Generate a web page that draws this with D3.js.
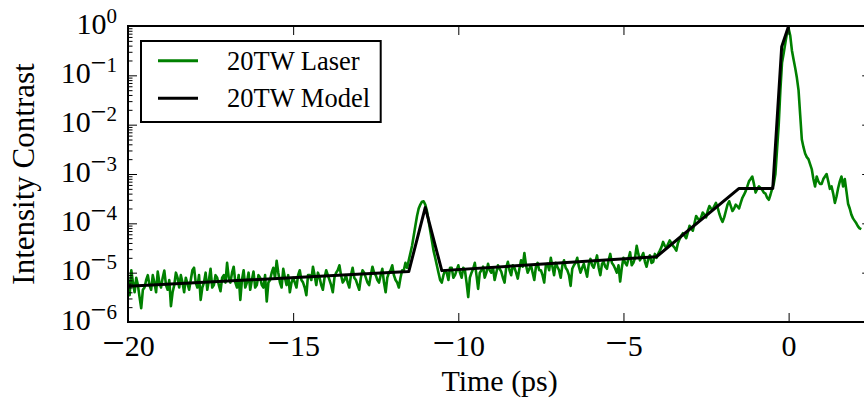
<!DOCTYPE html>
<html><head><meta charset="utf-8">
<script src="https://cdn.jsdelivr.net/npm/d3@7"></script>
<style>
body{margin:0;background:#fff;}
svg{display:block;}
text{font-family:"Liberation Serif","Times New Roman",serif;fill:#000;}
</style>
</head><body>
<svg id="chart" width="864" height="405"></svg>
<script>
// ---------------- data ----------------
const xDomain = [-20, 2.5];
const yDomain = [1e-6, 1];
const xTicks = [-20, -15, -10, -5, 0];
const xTickLabels = ["\u221220", "\u221215", "\u221210", "\u22125", "0"];
const yTicks = [1e-6, 1e-5, 1e-4, 1e-3, 1e-2, 1e-1, 1];
const yTickExponents = ["\u22126", "\u22125", "\u22124", "\u22123", "\u22122", "\u22121", "0"];
const seriesNames = ["20TW Laser", "20TW Model"];
const seriesColors = ["#008000", "#000000"];
const xLabel = "Time (ps)";
const yLabel = "Intensity Contrast";

const modelTime  = [-20, -11.5, -11.0, -10.5, -4.0, -1.5, -0.48, -0.21, 0.0];
const modelValue = [5.3e-6, 1.05e-5, 2.1e-4, 1.1e-5, 2.1e-5, 5.1e-4, 5.1e-4, 0.38, 1.0];

// measured trace: samples at laserTime, plus one sample midway between consecutive times
const laserTime = [
-20.0,-19.9,-19.8,-19.7,-19.6,-19.5,-19.4,-19.3,-19.2,-19.1,
-19.0,-18.9,-18.8,-18.7,-18.6,-18.5,-18.4,-18.3,-18.2,-18.1,
-18.0,-17.9,-17.8,-17.7,-17.6,-17.5,-17.4,-17.3,-17.2,-17.1,
-17.0,-16.9,-16.8,-16.7,-16.6,-16.5,-16.4,-16.3,-16.2,-16.1,
-16.0,-15.9,-15.8,-15.7,-15.6,-15.5,-15.4,-15.3,-15.2,-15.1,
-15.0,-14.9,-14.8,-14.7,-14.6,-14.5,-14.4,-14.3,-14.2,-14.1,
-14.0,-13.9,-13.8,-13.7,-13.6,-13.5,-13.4,-13.3,-13.2,-13.1,
-13.0,-12.9,-12.8,-12.7,-12.6,-12.5,-12.4,-12.3,-12.2,-12.1,
-12.0,-11.9,-11.8,-11.7,-11.6,-11.5,-11.4,-11.3,-11.2,-11.1,
-11.0,-10.9,-10.8,-10.7,-10.6,-10.5,-10.4,-10.3,-10.2,-10.1,
-10.0,-9.9,-9.8,-9.7,-9.6,-9.5,-9.4,-9.3,-9.2,-9.1,
-9.0,-8.9,-8.8,-8.7,-8.6,-8.5,-8.4,-8.3,-8.2,-8.1,
-8.0,-7.9,-7.8,-7.7,-7.6,-7.5,-7.4,-7.3,-7.2,-7.1,
-7.0,-6.9,-6.8,-6.7,-6.6,-6.5,-6.4,-6.3,-6.2,-6.1,
-6.0,-5.9,-5.8,-5.7,-5.6,-5.5,-5.4,-5.3,-5.2,-5.1,
-5.0,-4.9,-4.8,-4.7,-4.6,-4.5,-4.4,-4.3,-4.2,-4.1,
-4.0,-3.9,-3.8,-3.7,-3.6,-3.5,-3.4,-3.3,-3.2,-3.1,
-3.0,-2.9,-2.8,-2.7,-2.6,-2.5,-2.4,-2.3,-2.2,-2.1,
-2.0,-1.9,-1.8,-1.7,-1.6,-1.5,-1.4,-1.3,-1.2,-1.1,
-1.0,-0.9,-0.8,-0.7,-0.6,-0.5,-0.4,-0.3,-0.2,-0.1,
0.0,0.1,0.2,0.3,0.4,0.5,0.6,0.7,0.8,0.9,
1.0,1.1,1.2,1.3,1.4,1.5,1.6,1.7,1.8,1.9,
2.0,2.1,2.2
];
const laserValue = [
7.1e-6,1.12e-5,4.0e-6,5.6e-6,1.9e-6,5.0e-6,8.9e-6,4.5e-6,6.3e-6,1.05e-5,
5.0e-6,1.1e-5,4.5e-6,2.1e-6,5.6e-6,7.9e-6,8.9e-6,4.0e-6,6.0e-6,7.1e-6,
1.26e-5,5.0e-6,2.8e-6,6.3e-6,4.5e-6,1.2e-5,5.6e-6,7.9e-6,4.2e-6,8.9e-6,
1.58e-5,6.3e-6,1.32e-5,5.0e-6,2.8e-6,1.12e-5,6.3e-6,4.5e-6,1.05e-5,5.6e-6,
7.9e-6,5.0e-6,2.6e-6,7.1e-6,1.26e-5,1.74e-5,6.3e-6,1.2e-5,5.6e-6,4.0e-6,
7.9e-6,5.0e-6,1.12e-5,6.3e-6,3.5e-6,8.9e-6,1.32e-5,5.6e-6,7.9e-6,4.5e-6,
1.12e-5,7.1e-6,4.0e-6,1.0e-5,1.41e-5,6.3e-6,8.9e-6,5.0e-6,1.26e-5,7.1e-6,
4.5e-6,1.12e-5,7.9e-6,5.6e-6,1.32e-5,8.9e-6,6.3e-6,1.2e-5,4.0e-6,1.0e-5,
1.41e-5,7.1e-6,5.0e-6,1.12e-5,1.58e-5,1.78e-5,3.5e-5,8.9e-5,2.0e-4,2.75e-4,
2.4e-4,1.12e-4,4.5e-5,2.0e-5,1.0e-5,6.3e-6,1.12e-5,7.1e-6,1.26e-5,8.9e-6,
1.41e-5,7.9e-6,1.12e-5,3.2e-6,1.0e-5,1.58e-5,4.7e-6,1.12e-5,7.9e-6,1.51e-5,
1.0e-5,7.1e-6,1.41e-5,1.05e-5,6.3e-6,1.66e-5,8.9e-6,1.26e-5,7.6e-6,1.78e-5,
2.5e-5,1.0e-5,1.41e-5,7.1e-6,1.58e-5,1.12e-5,6.3e-6,1.51e-5,2.0e-5,8.9e-6,
1.32e-5,7.9e-6,1.78e-5,1.12e-5,5.4e-6,1.41e-5,2.0e-5,1.0e-5,1.51e-5,8.3e-6,
1.9e-5,1.26e-5,2.24e-5,8.9e-6,1.66e-5,1.2e-5,2.4e-5,1.41e-5,1.0e-5,6.6e-6,
2.0e-5,1.41e-5,2.6e-5,1.58e-5,3.5e-5,1.78e-5,2.5e-5,1.32e-5,2.24e-5,1.66e-5,
2.0e-5,2.8e-5,4.2e-5,3.2e-5,4.5e-5,3.5e-5,2.8e-5,4.8e-5,6.3e-5,5.0e-5,
8.9e-5,7.1e-5,1.41e-4,1.12e-4,1.66e-4,1.32e-4,2.24e-4,1.9e-4,2.6e-4,1.58e-4,
1.07e-4,1.78e-4,2.8e-4,1.78e-4,2.4e-4,2.0e-4,3.3e-4,4.5e-4,7.1e-4,8.9e-4,
4.2e-4,5.6e-4,4.8e-4,4.0e-4,3.0e-4,5.0e-4,1.0e-3,1.0e-2,0.18,0.45,
0.89,0.32,0.14,0.05,5.0e-3,2.6e-3,2.0e-3,1.26e-3,5.6e-4,7.1e-4,
6.3e-4,8.9e-4,7.1e-4,5.6e-4,2.6e-4,5.2e-4,8.9e-4,7.9e-4,2.5e-4,1.5e-4,
1.12e-4,8.7e-5,7.6e-5
];
const laserMidValue = [
3.5e-6,6.3e-6,7.9e-6,3.2e-6,4.5e-6,7.1e-6,5.6e-6,8.9e-6,4.0e-6,6.3e-6,
7.9e-6,5.6e-6,7.1e-6,4.0e-6,1.0e-5,5.0e-6,6.3e-6,7.9e-6,4.5e-6,1.12e-5,
6.3e-6,8.9e-6,5.0e-6,1.0e-5,7.1e-6,5.0e-6,8.9e-6,5.6e-6,7.9e-6,6.3e-6,
7.9e-6,1.0e-5,6.3e-6,8.9e-6,7.1e-6,5.0e-6,1.0e-5,7.1e-6,5.0e-6,8.9e-6,
5.6e-6,8.9e-6,6.3e-6,1.0e-5,7.9e-6,1.0e-5,5.0e-6,7.9e-6,8.9e-6,6.3e-6,
6.3e-6,8.9e-6,7.1e-6,5.0e-6,8.9e-6,7.1e-6,8.9e-6,1.0e-5,5.6e-6,7.9e-6,
8.9e-6,5.6e-6,7.9e-6,1.12e-5,8.9e-6,7.1e-6,6.3e-6,8.9e-6,7.9e-6,5.6e-6,
7.9e-6,1.0e-5,6.3e-6,8.9e-6,1.0e-5,7.1e-6,8.9e-6,6.3e-6,7.9e-6,1.12e-5,
8.9e-6,6.3e-6,7.9e-6,1.12e-5,1.26e-5,2.5e-5,5.6e-5,1.41e-4,2.4e-4,2.8e-4,
1.78e-4,7.1e-5,2.8e-5,1.41e-5,7.1e-6,8.9e-6,1.0e-5,1.26e-5,7.9e-6,1.12e-5,
1.0e-5,1.26e-5,6.3e-6,7.9e-6,1.2e-5,8.9e-6,1.0e-5,1.32e-5,1.0e-5,1.12e-5,
1.26e-5,1.0e-5,1.2e-5,7.9e-6,1.26e-5,1.12e-5,1.41e-5,1.0e-5,1.2e-5,1.32e-5,
1.41e-5,1.2e-5,1.0e-5,1.32e-5,1.12e-5,8.9e-6,1.41e-5,1.12e-5,1.32e-5,1.58e-5,
1.12e-5,1.41e-5,1.26e-5,8.9e-6,1.2e-5,1.58e-5,1.32e-5,1.26e-5,1.12e-5,1.51e-5,
1.41e-5,1.66e-5,1.26e-5,1.51e-5,1.32e-5,1.78e-5,1.58e-5,1.2e-5,1.41e-5,1.26e-5,
1.58e-5,1.9e-5,1.41e-5,2.0e-5,2.4e-5,2.1e-5,1.66e-5,1.9e-5,1.58e-5,2.4e-5,
2.4e-5,3.3e-5,3.5e-5,3.8e-5,4.0e-5,3.2e-5,4.0e-5,5.6e-5,5.6e-5,6.6e-5,
7.9e-5,1.0e-4,1.26e-4,1.32e-4,1.51e-4,1.78e-4,2.0e-4,2.24e-4,2.1e-4,1.26e-4,
1.32e-4,2.4e-4,2.24e-4,2.0e-4,2.2e-4,2.6e-4,3.8e-4,5.6e-4,7.9e-4,6.3e-4,
5.0e-4,5.2e-4,4.2e-4,3.3e-4,3.8e-4,6.3e-4,3.2e-3,5.0e-2,0.28,0.71,
0.63,0.21,0.089,1.58e-2,3.5e-3,2.2e-3,1.58e-3,7.9e-4,8.9e-4,6.3e-4,
7.9e-4,1.0e-3,5.0e-4,4.0e-4,3.5e-4,7.1e-4,5.6e-4,4.5e-4,2.0e-4,1.26e-4,
1.0e-4,7.9e-5
];

// ---------------- layout ----------------
const plot = {left: 128, right: 871.2, top: 26, bottom: 322};
const svg = d3.select("#chart");
const x = d3.scaleLinear().domain(xDomain).range([plot.left, plot.right]);
const y = d3.scaleLog().domain(yDomain).range([plot.bottom, plot.top]);
const fontFam = '"Liberation Serif","Times New Roman",serif';

svg.append("defs").append("clipPath").attr("id", "clip")
  .append("rect").attr("x", plot.left).attr("y", plot.top)
  .attr("width", plot.right - plot.left).attr("height", plot.bottom - plot.top);

const laser = [];
laserTime.forEach((t, i) => {
  laser.push({t, v: laserValue[i]});
  if (i < laserMidValue.length) laser.push({t: (t + laserTime[i + 1]) / 2, v: laserMidValue[i]});
});
const model = modelTime.map((t, i) => ({t, v: modelValue[i]}));
const line = d3.line().x(d => x(d.t)).y(d => y(d.v));

const gData = svg.append("g").attr("clip-path", "url(#clip)");
gData.append("path").datum(laser).attr("d", line)
  .attr("fill", "none").attr("stroke", seriesColors[0]).attr("stroke-width", 2.6)
  .attr("stroke-linejoin", "round");
gData.append("path").datum(model).attr("d", line)
  .attr("fill", "none").attr("stroke", seriesColors[1]).attr("stroke-width", 3)
  .attr("stroke-linejoin", "round");

// ---------------- axes ----------------
const minorY = y.ticks().filter(v => !yTicks.some(m => Math.abs(m - v) / m < 1e-9));

function styleAxis(g) {
  g.select(".domain").remove();
  g.selectAll(".tick line").attr("stroke", "#000").attr("stroke-width", 1);
  g.attr("font-family", fontFam);
}

// bottom
const gxb = svg.append("g").attr("transform", `translate(0,${plot.bottom})`)
  .call(d3.axisBottom(x).tickValues(xTicks).tickSize(-9).tickPadding(12.5));
styleAxis(gxb);
gxb.selectAll(".tick text").attr("font-size", 30).attr("fill", "#000").each(function(d) {
  const lab = xTickLabels[xTicks.indexOf(d)];
  const t = d3.select(this).text("");
  if (lab[0] === "\u2212") {
    t.append("tspan").attr("font-size", 40).text("\u2212");
    t.append("tspan").text(lab.slice(1));
  } else t.append("tspan").text(lab);
});
// top
const gxt = svg.append("g").attr("transform", `translate(0,${plot.top})`)
  .call(d3.axisTop(x).tickValues(xTicks).tickSize(-9).tickFormat(""));
styleAxis(gxt);

// left
const gyl = svg.append("g").attr("transform", `translate(${plot.left},0)`)
  .call(d3.axisLeft(y).tickValues(yTicks).tickSize(-9).tickPadding(11));
styleAxis(gyl);
gyl.selectAll(".tick text").attr("font-size", 30).attr("fill", "#000").attr("dy", 7).each(function(d) {
  const e = yTickExponents[yTicks.indexOf(d)];
  const t = d3.select(this).text("");
  t.append("tspan").text("10");
  const sup = t.append("tspan").attr("dy", -11).attr("font-size", 21);
  if (e[0] === "\u2212") {
    sup.append("tspan").attr("font-size", 28).text("\u2212");
    sup.append("tspan").text(e.slice(1));
  } else sup.append("tspan").text(e);
});
const gylm = svg.append("g").attr("transform", `translate(${plot.left},0)`)
  .call(d3.axisLeft(y).tickValues(minorY).tickSize(-4.5).tickFormat(""));
styleAxis(gylm);

// right
const gyr = svg.append("g").attr("transform", `translate(${plot.right},0)`)
  .call(d3.axisRight(y).tickValues(yTicks).tickSize(-9).tickFormat(""));
styleAxis(gyr);
const gyrm = svg.append("g").attr("transform", `translate(${plot.right},0)`)
  .call(d3.axisRight(y).tickValues(minorY).tickSize(-4.5).tickFormat(""));
styleAxis(gyrm);

// spines
svg.append("rect").attr("x", plot.left).attr("y", plot.top)
  .attr("width", plot.right - plot.left).attr("height", plot.bottom - plot.top)
  .attr("fill", "none").attr("stroke", "#000").attr("stroke-width", 2);

// axis labels
svg.append("text").attr("x", (plot.left + plot.right) / 2).attr("y", 391)
  .attr("text-anchor", "middle").attr("font-size", 30).text(xLabel);
svg.append("text").attr("transform", `translate(34,${(plot.top + plot.bottom) / 2}) rotate(-90)`)
  .attr("text-anchor", "middle").attr("font-size", 31).text(yLabel);

// ---------------- legend ----------------
const lg = svg.append("g");
lg.append("rect").attr("x", 141).attr("y", 41).attr("width", 239.7).attr("height", 81)
  .attr("fill", "#fff").attr("stroke", "#000").attr("stroke-width", 2);
seriesNames.forEach((name, i) => {
  const yy = 60.7 + i * 37.6;
  lg.append("line").attr("x1", 158).attr("x2", 198).attr("y1", yy).attr("y2", yy)
    .attr("stroke", seriesColors[i]).attr("stroke-width", 3);
  lg.append("text").attr("x", 227).attr("y", yy + 8.8).attr("font-size", 26.5).text(name);
});
</script>
</body></html>
